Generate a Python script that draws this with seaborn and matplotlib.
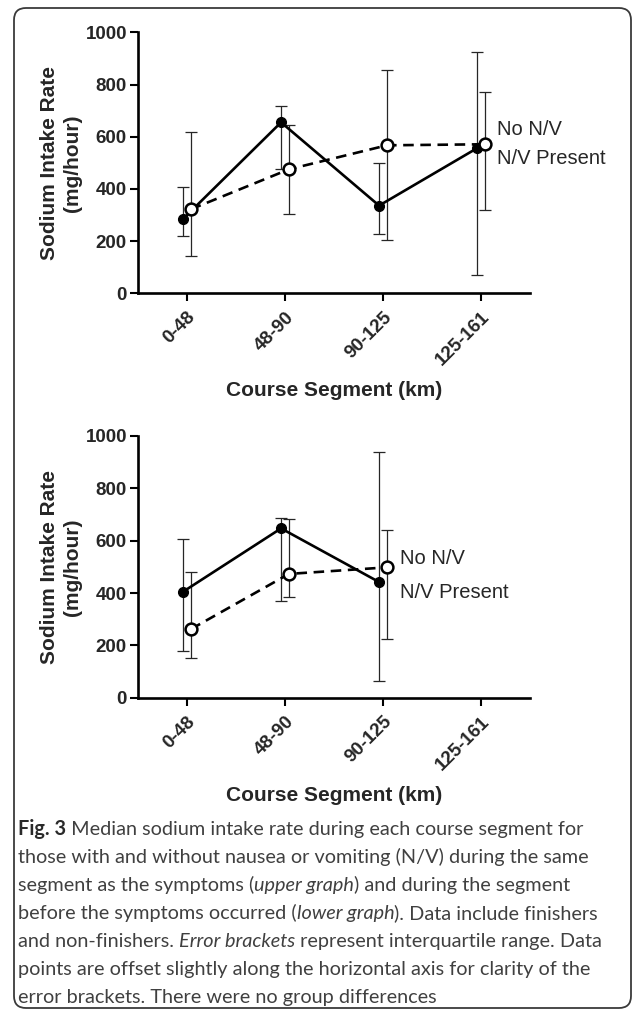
import numpy as np
import pandas as pd
import matplotlib
matplotlib.use("Agg")
import matplotlib.pyplot as plt
import seaborn as sns
from matplotlib.patches import FancyBboxPatch
from matplotlib.transforms import IdentityTransform

# ---------------- data ----------------
segments = ["0-48", "48-90", "90-125", "125-161"]
yticks = [0, 200, 400, 600, 800, 1000]

# upper graph (same segment as symptoms)
top_nv_med = [285, 655, 336, 556]   # N/V Present (filled, solid)
top_nv_q1 = [220, 475, 229, 69]
top_nv_q3 = [409, 718, 501, 923]
top_no_med = [322, 475, 567, 571]   # No N/V (open, dashed)
top_no_q1 = [144, 305, 206, 321]
top_no_q3 = [617, 644, 856, 771]

# lower graph (segment before symptoms)
bot_nv_med = [405, 647, 442]
bot_nv_q1 = [177, 369, 65]
bot_nv_q3 = [605, 685, 939]
bot_no_med = [262, 473, 498]
bot_no_q1 = [150, 386, 225]
bot_no_q3 = [479, 682, 639]

series_labels = ["No N/V", "N/V Present"]
x_label = "Course Segment (km)"
y_label = "Sodium Intake Rate\n(mg/hour)"

caption_lines = [
    [("Fig. 3", "b"), (" Median sodium intake rate during each course segment for", "n")],
    [("those with and without nausea or vomiting (N/V) during the same", "n")],
    [("segment as the symptoms (", "n"), ("upper graph", "i"), (") and during the segment", "n")],
    [("before the symptoms occurred (", "n"), ("lower graph", "i"), ("). Data include finishers", "n")],
    [("and non-finishers. ", "n"), ("Error brackets", "i"), (" represent interquartile range. Data", "n")],
    [("points are offset slightly along the horizontal axis for clarity of the", "n")],
    [("error brackets. There were no group differences", "n")],
]

# ---------------- style ----------------
sns.set_style("ticks")
plt.rcParams["font.family"] = ["Liberation Sans", "DejaVu Sans"]

W, H = 634, 1010
fig = plt.figure(figsize=(W / 100, H / 100), dpi=100)

OFF = 0.04


def draw_panel(ax, nv_med, nv_q1, nv_q3, no_med, no_q1, no_q3, lab_x, lab_y):
    n = len(nv_med)
    xs = np.arange(n)
    nv_med_a, no_med_a = np.array(nv_med), np.array(no_med)
    ax.errorbar(xs - OFF, nv_med_a, yerr=[nv_med_a - np.array(nv_q1), np.array(nv_q3) - nv_med_a],
                fmt="none", ecolor="#262626", elinewidth=0.9, capsize=4, capthick=0.9, zorder=2)
    ax.errorbar(xs + OFF, no_med_a, yerr=[no_med_a - np.array(no_q1), np.array(no_q3) - no_med_a],
                fmt="none", ecolor="#262626", elinewidth=0.9, capsize=4, capthick=0.9, zorder=2)
    df_nv = pd.DataFrame({"x": xs - OFF, "y": nv_med})
    df_no = pd.DataFrame({"x": xs + OFF, "y": no_med})
    sns.lineplot(data=df_nv, x="x", y="y", ax=ax, color="black", linewidth=1.9,
                 marker="o", markersize=7, markerfacecolor="black", markeredgecolor="black",
                 markeredgewidth=1, errorbar=None, sort=False, zorder=3)
    sns.lineplot(data=df_no, x="x", y="y", ax=ax, color="black", linewidth=1.9,
                 linestyle=(0, (4, 2.5)),
                 marker="o", markersize=8.5, markerfacecolor="white", markeredgecolor="black",
                 markeredgewidth=1.8, errorbar=None, sort=False, zorder=4)
    ax.set_xlim(-0.5, 3.5)
    ax.set_ylim(0, 1000)
    ax.set_xticks(range(len(segments)))
    ax.set_xticklabels(segments, rotation=45, ha="right", rotation_mode="anchor",
                       fontsize=13.5, fontweight="bold")
    ax.set_yticks(yticks)
    ax.set_yticklabels([str(v) for v in yticks], fontsize=13.5, fontweight="bold")
    ax.tick_params(axis="both", length=6, width=1.5, color="black", pad=2)
    ax.tick_params(axis="x", pad=5)
    for s in ["left", "bottom"]:
        ax.spines[s].set_linewidth(1.9)
        ax.spines[s].set_color("black")
    sns.despine(ax=ax)
    ax.set_xlabel(x_label, fontsize=15, fontweight="bold")
    ax.xaxis.set_label_coords(0.5, -0.372)
    ax.xaxis.label.set_va("center")
    ax.set_ylabel(y_label, fontsize=15, fontweight="bold", linespacing=1.3)
    ax.yaxis.set_label_coords(-0.142, 0.5)
    ax.text(lab_x, lab_y[0], series_labels[0], fontsize=14.5, va="center", ha="left", clip_on=False)
    ax.text(lab_x, lab_y[1], series_labels[1], fontsize=14.5, va="center", ha="left", clip_on=False)
    ax.set_facecolor("none")


ax_left = 138 / W
ax_w = (530 - 138) / W
ax1 = fig.add_axes([ax_left, 1 - 293.3 / H, ax_w, (293.3 - 32.3) / H])
ax2 = fig.add_axes([ax_left, 1 - 697.7 / H, ax_w, (697.7 - 436.0) / H])

draw_panel(ax1, top_nv_med, top_nv_q1, top_nv_q3, top_no_med, top_no_q1, top_no_q3,
           3.16, (626, 518))
draw_panel(ax2, bot_nv_med, bot_nv_q1, bot_nv_q3, bot_no_med, bot_no_q1, bot_no_q3,
           2.17, (533, 401))

# ---------------- caption ----------------
cap_fs = 14.3
cap_color = "#404040"
renderer = fig.canvas.get_renderer()


def props(style):
    kw = dict(fontsize=cap_fs, family="Lato", color=cap_color)
    if style == "b":
        kw["fontweight"] = "bold"
        kw["color"] = "#2a2a2a"
    if style == "i":
        kw["style"] = "italic"
    return kw


def measure(s, style):
    t1 = fig.text(0, 0, s + "|", **props(style))
    t2 = fig.text(0, 0, "|", **props(style))
    w = t1.get_window_extent(renderer).width - t2.get_window_extent(renderer).width
    t1.remove()
    t2.remove()
    return w


base_y = 835
line_gap = 28
for i, line in enumerate(caption_lines):
    x = 18.0
    y = H - (base_y + i * line_gap)
    for text, style in line:
        fig.text(x / W, y / H, text, ha="left", va="baseline", **props(style))
        x += measure(text, style)

# ---------------- border ----------------
border = FancyBboxPatch((14, H - 1008), 617, 1000, boxstyle="round,pad=0,rounding_size=12",
                        transform=IdentityTransform(), facecolor="none", edgecolor="#3a3a3a",
                        linewidth=1.3)
fig.add_artist(border)

fig.savefig("out.png", dpi=100)
